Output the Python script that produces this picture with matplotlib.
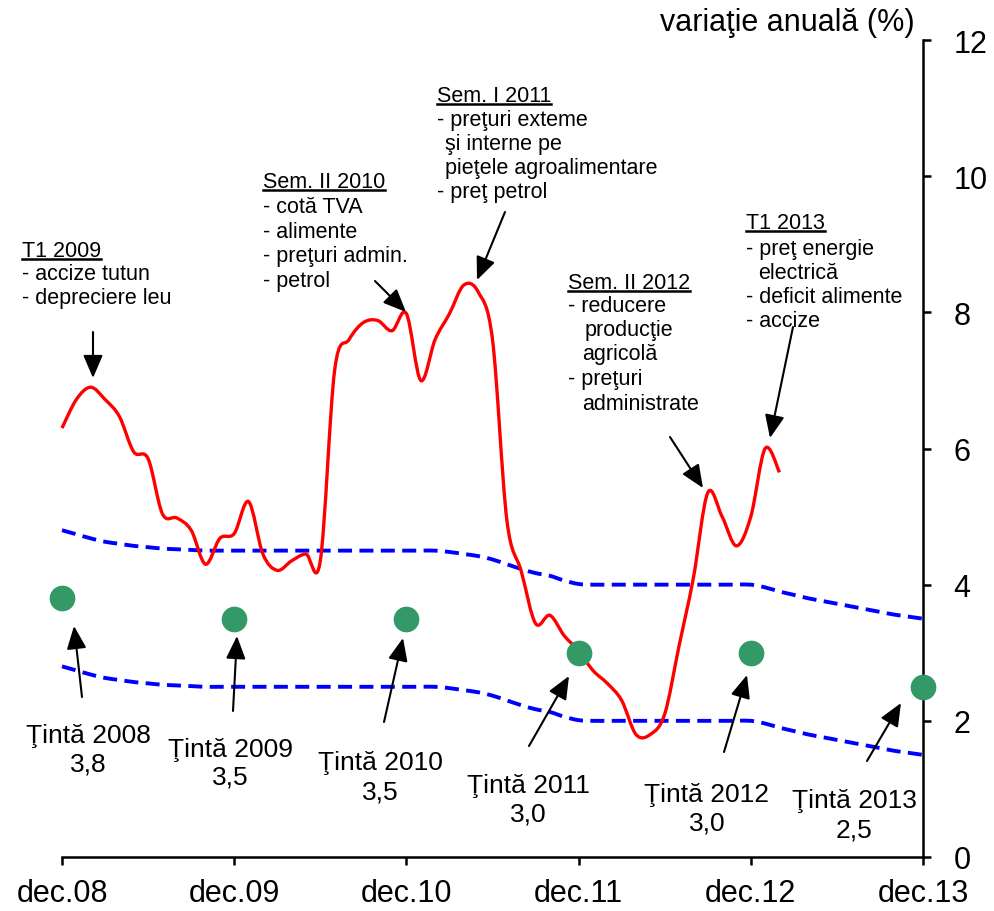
import numpy as np
import matplotlib
matplotlib.use('Agg')
import matplotlib.pyplot as plt
from matplotlib.path import Path
from matplotlib.patches import PathPatch
from matplotlib.lines import Line2D

plt.rcParams['font.family'] = ['Liberation Sans', 'DejaVu Sans']
plt.rcParams['xtick.major.size'] = 6
plt.rcParams['xtick.major.width'] = 1.8
plt.rcParams['xtick.major.pad'] = 9
plt.rcParams['xtick.labelsize'] = 22
plt.rcParams['ytick.major.size'] = 6
plt.rcParams['ytick.major.width'] = 1.8
plt.rcParams['ytick.major.pad'] = 16
plt.rcParams['ytick.labelsize'] = 22
plt.rcParams['ytick.right'] = True
plt.rcParams['ytick.left'] = False
plt.rcParams['ytick.labelright'] = True
plt.rcParams['ytick.labelleft'] = False

W, H = 994, 912

# ---- data (monthly, dec.08 = 0) ----
tick_labels = ['dec.08', 'dec.09', 'dec.10', 'dec.11', 'dec.12', 'dec.13']
inflation = [6.3, 6.72, 6.9, 6.72, 6.47, 5.95, 5.85, 5.04, 4.98, 4.8,
             4.3, 4.68, 4.75, 5.22, 4.45, 4.21, 4.35, 4.45, 4.35, 7.15,
             7.6, 7.85, 7.88, 7.73, 7.98, 7.0, 7.6, 7.98, 8.4, 8.3,
             7.6, 4.95, 4.2, 3.43, 3.55, 3.25, 3.03, 2.74, 2.55, 2.3,
             1.8, 1.8, 2.1, 3.1, 4.1, 5.35, 5.0, 4.57, 5.0, 6.0,
             5.65]
band_upper = [4.8, 4.74, 4.68, 4.63, 4.6, 4.57, 4.55, 4.53, 4.52, 4.51,
              4.5, 4.5, 4.5, 4.5, 4.5, 4.5, 4.5, 4.5, 4.5, 4.5,
              4.5, 4.5, 4.5, 4.5, 4.5, 4.5, 4.5, 4.48, 4.45, 4.42,
              4.37, 4.3, 4.23, 4.17, 4.13, 4.06, 4.01, 4.0, 4.0, 4.0,
              4.0, 4.0, 4.0, 4.0, 4.0, 4.0, 4.0, 4.0, 4.0, 3.96,
              3.9, 3.85, 3.8, 3.76, 3.72, 3.68, 3.64, 3.6, 3.56, 3.53,
              3.5]
band_lower = [2.8, 2.74, 2.68, 2.63, 2.6, 2.57, 2.55, 2.53, 2.52, 2.51,
              2.5, 2.5, 2.5, 2.5, 2.5, 2.5, 2.5, 2.5, 2.5, 2.5,
              2.5, 2.5, 2.5, 2.5, 2.5, 2.5, 2.5, 2.48, 2.45, 2.42,
              2.37, 2.3, 2.23, 2.17, 2.13, 2.06, 2.01, 2.0, 2.0, 2.0,
              2.0, 2.0, 2.0, 2.0, 2.0, 2.0, 2.0, 2.0, 2.0, 1.96,
              1.9, 1.85, 1.8, 1.76, 1.72, 1.68, 1.64, 1.6, 1.56, 1.53,
              1.5]
target_month = [0, 12, 24, 36, 48, 60]
target_value = [3.8, 3.5, 3.5, 3.0, 3.0, 2.5]
target_year = ['2008', '2009', '2010', '2011', '2012', '2013']


def smooth_path(x, y):
    # Excel-like smoothed line (Catmull-Rom as cubic bezier)
    n = len(x)
    verts = [(x[0], y[0])]
    codes = [Path.MOVETO]
    for i in range(n - 1):
        a = max(i - 1, 0)
        d = min(i + 2, n - 1)
        c1 = (x[i] + (x[i + 1] - x[a]) / 6, y[i] + (y[i + 1] - y[a]) / 6)
        c2 = (x[i + 1] - (x[d] - x[i]) / 6, y[i + 1] - (y[d] - y[i]) / 6)
        verts += [c1, c2, (x[i + 1], y[i + 1])]
        codes += [Path.CURVE4] * 3
    return Path(verts, codes)


def P(px, py):
    return (px / W, 1 - py / H)


fig = plt.figure(figsize=(W / 100, H / 100), dpi=100)
ax = fig.add_axes([62 / W, 1 - 858 / H, (923 - 62) / W, (858 - 41) / H])

for band in [band_upper, band_lower]:
    ax.add_patch(PathPatch(smooth_path(np.arange(len(band)), band), fill=False,
                           edgecolor='#0000FF', lw=2.8, linestyle=(0, (3.6, 1.9)),
                           capstyle='butt', clip_on=False))
ax.add_patch(PathPatch(smooth_path(np.arange(len(inflation)), inflation), fill=False,
                       edgecolor='#FF0000', lw=2.4, clip_on=False))
ax.plot(target_month, target_value, 'o', color='#339966', ms=18.5, mec='none',
        clip_on=False, zorder=5)

ax.set_xlim(0, 60)
ax.set_ylim(0, 12)
ax.set_xticks(target_month)
ax.set_xticklabels(tick_labels)
ax.set_yticks(range(0, 13, 2))
ax.spines['left'].set_visible(False)
ax.spines['top'].set_visible(False)
for s in ['bottom', 'right']:
    ax.spines[s].set_linewidth(1.8)

fig.text(*P(915, 31), 'variaţie anuală (%)', fontsize=22, ha='right', va='baseline')

# ---- annotation blocks ----
blocks = [
    ('T1 2009', [(22, 257), (22, 280), (22, 304)],
     ['- accize tutun', '- depreciere leu']),
    ('Sem. II 2010', [(263, 188), (263, 213), (263, 238), (263, 262), (263, 287)],
     ['- cotă TVA', '- alimente', '- preţuri admin.', '- petrol']),
    ('Sem. I 2011', [(437, 102), (437, 126), (445, 150), (445, 174), (437, 198)],
     ['- preţuri exteme', 'şi interne pe', 'pieţele agroalimentare', '- preţ petrol']),
    ('Sem. II 2012', [(568, 289), (568, 312), (585, 336), (582, 360), (568, 385), (582, 410)],
     ['- reducere', 'producţie', 'agricolă', '- preţuri', 'administrate']),
    ('T1 2013', [(746, 229), (746, 255), (758, 279), (746, 303), (746, 327)],
     ['- preţ energie', 'electrică', '- deficit alimente', '- accize']),
]
headers = []
for head, pos, lines in blocks:
    t = fig.text(*P(*pos[0]), head, fontsize=15.5, ha='left', va='baseline')
    headers.append((t, pos[0][1]))
    for (px, py), s in zip(pos[1:], lines):
        fig.text(*P(px, py), s, fontsize=15.5, ha='left', va='baseline')

fig.canvas.draw()
renderer = fig.canvas.get_renderer()
for t, base in headers:
    bb = t.get_window_extent(renderer)
    y = 1 - (base + 3) / H
    fig.add_artist(Line2D([bb.x0 / W, bb.x1 / W], [y, y], color='black', lw=1.8,
                          transform=fig.transFigure))

arrows = [((93, 333), (93, 379)), ((375, 282), (406, 313)), ((505, 213), (477, 281)),
          ((670, 438), (703, 489)), ((793, 328), (770, 439)),
          ((82, 698), (74, 627)), ((233, 712), (237, 637)), ((384, 723), (403, 639)),
          ((529, 747), (569, 677)), ((724, 753), (747, 676)), ((867, 762), (901, 704))]
for tail, tip in arrows:
    ax.annotate('', xy=P(*tip), xytext=P(*tail), xycoords='figure fraction',
                textcoords='figure fraction',
                arrowprops=dict(arrowstyle='-|>,head_length=0.7,head_width=0.3',
                                mutation_scale=20, lw=1.5, color='black',
                                shrinkA=0, shrinkB=0))

# target labels
label_pos = [(88, 743, 772), (230, 757, 785), (380, 770, 800), (528, 793, 822),
             (707, 802, 831), (854, 808, 838)]
for (cx, y1, y2), yr, v in zip(label_pos, target_year, target_value):
    fig.text(*P(cx, y1), 'Ţintă ' + yr, fontsize=19, ha='center', va='baseline')
    fig.text(*P(cx, y2), f'{v:.1f}'.replace('.', ','), fontsize=19, ha='center', va='baseline')

fig.savefig('out.png', dpi=100)
